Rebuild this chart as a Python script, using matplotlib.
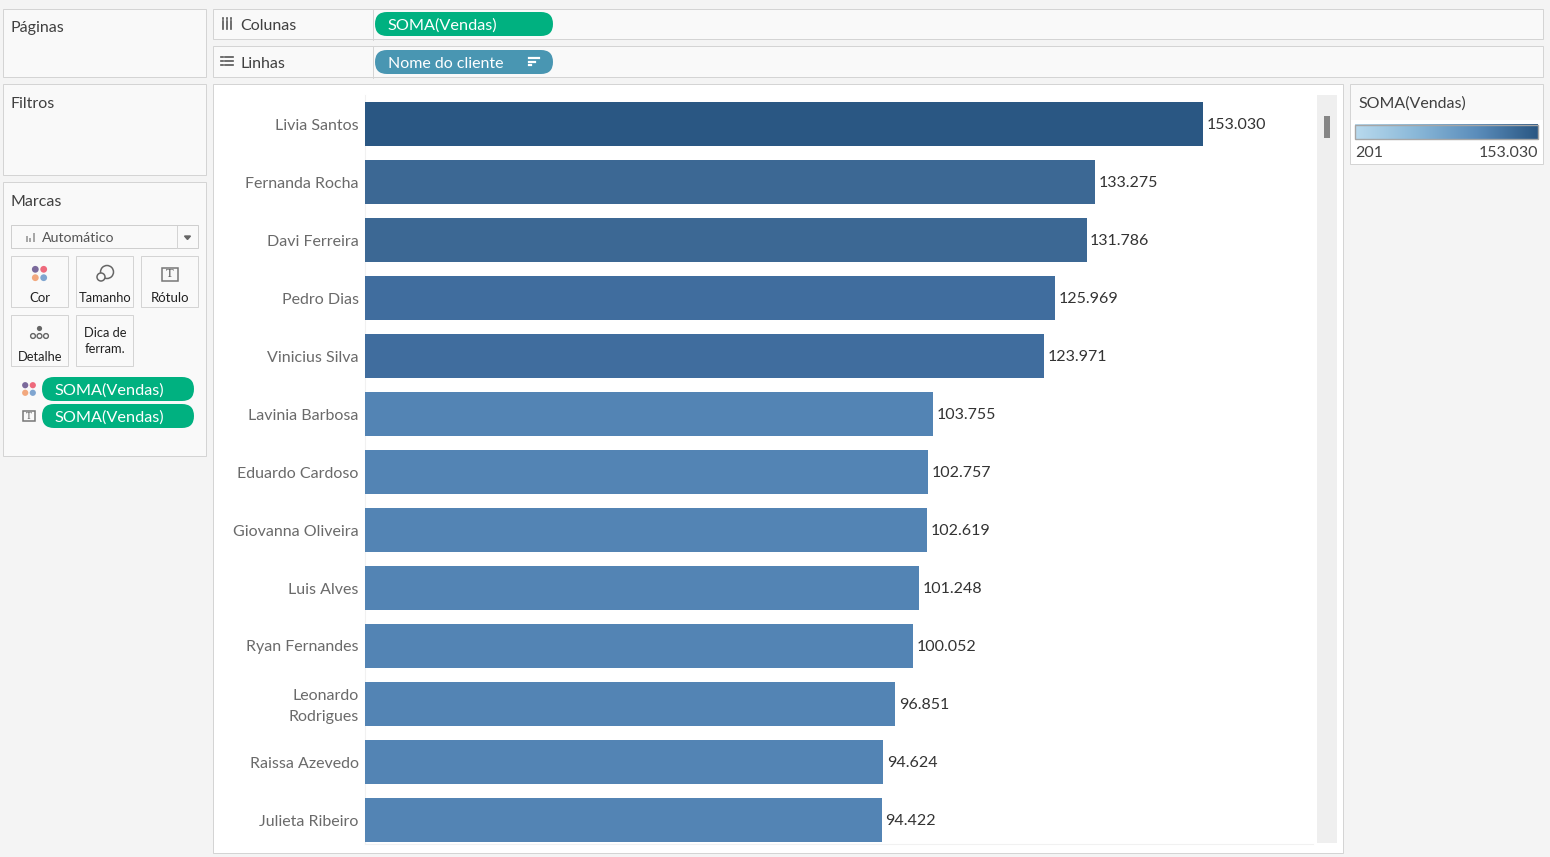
import matplotlib
matplotlib.use("Agg")
import matplotlib.pyplot as plt
from matplotlib.patches import Rectangle, FancyBboxPatch, Circle
from matplotlib.colors import LinearSegmentedColormap, ListedColormap, BoundaryNorm
from matplotlib.transforms import ScaledTranslation
import numpy as np

plt.rcParams['font.family'] = ['Lato', 'DejaVu Sans']

customers = ["Livia Santos", "Fernanda Rocha", "Davi Ferreira", "Pedro Dias", "Vinicius Silva",
             "Lavinia Barbosa", "Eduardo Cardoso", "Giovanna Oliveira", "Luis Alves", "Ryan Fernandes",
             "Leonardo\nRodrigues", "Raissa Azevedo", "Julieta Ribeiro"]
sales = [153030, 133275, 131786, 125969, 123971, 103755, 102757, 102619, 101248, 100052, 96851, 94624, 94422]
value_labels = ["153.030", "133.275", "131.786", "125.969", "123.971", "103.755", "102.757", "102.619",
                "101.248", "100.052", "96.851", "94.624", "94.422"]
color_bins = [201, 110000, 128000, 140000, 153031]
color_steps = ["#5384b4", "#406d9e", "#3c6894", "#2a5783"]
legend_colors = ["#b9daee", "#8ab8d8", "#5b8dbb", "#2a5783"]

W, H = 1550, 857
fig = plt.figure(figsize=(W / 100, H / 100), dpi=100, facecolor="#f4f4f4")
ui = fig.add_axes([0, 0, 1, 1])
ui.set_xlim(0, W); ui.set_ylim(H, 0); ui.axis("off")

EDGE = "#d4d4d4"; PANEL = "#f9f9f9"; TXT = "#404040"; GREEN = "#00b180"; TEAL = "#4996b2"

def box(x0, y0, x1, y1, fc=PANEL, ec=EDGE, lw=1.0, z=1):
    ui.add_patch(Rectangle((x0 + .5, y0 + .5), x1 - x0 - 1, y1 - y0 - 1, fc=fc, ec=ec, lw=lw * 0.72, zorder=z, snap=False))

def pill(x0, y0, x1, y1, fc):
    r = (y1 - y0) / 2
    ui.add_patch(FancyBboxPatch((x0 + r, y0 + r), x1 - x0 - 2 * r, 0, boxstyle=f"round,pad={r},rounding_size={r}",
                                fc=fc, ec="none", zorder=3, mutation_aspect=1))

def label(x, y, s, size=11.5, c=TXT, ha="left", **kw):
    ui.text(x, y + 0.8, s, fontsize=size, color=c, ha=ha, va="center", zorder=5, **kw)

def dots(cx, cy, step=4.2, r=3.4):
    for dx, dy, c in [(-1, -1, "#7b6a9c"), (1, -1, "#ee6a7c"), (-1, 1, "#f2a87e"), (1, 1, "#7fa5d0")]:
        ui.add_patch(Circle((cx + dx * step, cy + dy * step), r, fc=c, ec="none", zorder=5))

def tbox(cx, cy, w, h, size):
    ui.add_patch(Rectangle((cx - w / 2, cy - h / 2), w, h, fc="none", ec="#777777", lw=1.1, zorder=5))
    ui.text(cx, cy, "T", fontsize=size, family="Liberation Serif", color="#555555", ha="center", va="center", zorder=6)

# left cards
box(3, 9, 207, 78); label(11, 27, "Páginas")
box(3, 84, 207, 176); label(11, 103, "Filtros")
box(3, 182, 207, 457); label(11, 201, "Marcas")

# shelves
box(213, 9, 1544, 40); box(213, 46, 1544, 78)
ui.plot([372.5, 372.5], [9, 40], color=EDGE, lw=0.72, zorder=2)
ui.plot([372.5, 372.5], [46, 78], color=EDGE, lw=0.72, zorder=2)
for x in (223, 227, 231):
    ui.plot([x, x], [21, 29], color="#555555", lw=1.2, zorder=3)
    ui.plot([x, x], [17.5, 19], color="#555555", lw=1.2, zorder=3)
label(240.5, 25, "Colunas")
for y in (57, 61, 65):
    ui.plot([221, 223], [y, y], color="#555555", lw=1.2, zorder=3)
    ui.plot([225, 233], [y, y], color="#555555", lw=1.2, zorder=3)
label(241, 63, "Linhas")
pill(375, 12, 553, 36, GREEN); label(388, 25, "SOMA(Vendas)", size=11.7, c="white")
pill(375, 50, 553, 74, TEAL); label(388, 63, "Nome do cliente", c="white")
for y, x1 in ((58, 539), (61.5, 535), (65, 531)):
    ui.plot([529, x1], [y, y], color="white", lw=1.6, zorder=5)

# marks card
box(11, 225, 199, 249, fc=PANEL, ec="#cfcfcf")
ui.plot([176.5, 176.5], [226, 248], color=EDGE, lw=0.72, zorder=3)
for x, h in ((26.5, 6), (30, 4), (33.5, 9)):
    ui.add_patch(Rectangle((x - 1, 242 - h), 2.2, h, fc="#a8a8a8", ec="none", zorder=4))
label(42, 237, "Automático", size=10.2, c="#555555")
ui.fill([184.5, 190.5, 187.5], [236, 236, 239.5], color="#666666", zorder=4)
for bx0, bx1, by0, by1 in ((11, 69, 256, 308), (76, 134, 256, 308), (141, 199, 256, 308),
                           (11, 69, 315, 367), (76, 134, 315, 367)):
    box(bx0, by0, bx1, by1, fc=PANEL, ec=EDGE)
dots(39.5, 273.5)
ui.add_patch(Circle((107, 272), 6.5, fc="none", ec="#666666", lw=1.1, zorder=5))
ui.add_patch(Circle((101, 277), 4, fc=PANEL, ec="#666666", lw=1.1, zorder=6))
tbox(170, 274, 16, 13, 9)
label(40, 297.5, "Cor", size=9.5, c="#222222", ha="center")
label(105, 297.5, "Tamanho", size=9.3, c="#222222", ha="center")
label(170, 297.5, "Rótulo", size=9.5, c="#222222", ha="center")
ui.add_patch(Circle((39.5, 328.5), 2.6, fc="#666666", ec="none", zorder=5))
for x in (33, 39.5, 46):
    ui.add_patch(Circle((x, 336), 2.4, fc="none", ec="#666666", lw=1, zorder=5))
label(40, 356.5, "Detalhe", size=9.3, c="#222222", ha="center")
label(105, 332.5, "Dica de", size=9.3, c="#222222", ha="center")
label(105, 348.5, "ferram.", size=9.3, c="#222222", ha="center")
dots(29, 389, step=3.8, r=3.1)
tbox(29, 416, 12, 10, 7)
pill(42, 377, 194, 401, GREEN); label(54.5, 389.5, "SOMA(Vendas)", size=11.7, c="white")
pill(42, 404, 194, 428, GREEN); label(54.5, 416.5, "SOMA(Vendas)", size=11.7, c="white")

# chart panel and scrollbar
box(213, 84, 1344, 854, fc="white", ec=EDGE)
ui.add_patch(Rectangle((1317, 95), 20, 748, fc="#efefef", ec="none", zorder=2))
ui.add_patch(Rectangle((1324, 116), 6, 22, fc="#868686", ec="none", zorder=3))
ui.plot([364.5, 364.5], [95, 843], color="#f1f1f1", lw=0.8, zorder=2)
ui.plot([364.5, 1312.5], [843.5, 843.5], color="#f1f1f1", lw=0.8, zorder=2)

# legend card
box(1350, 84, 1544, 165, fc="white", ec=EDGE)
ui.add_patch(Rectangle((1351, 85), 192, 35, fc=PANEL, ec="none", zorder=2))
label(1358, 102.5, "SOMA(Vendas)")
grad = LinearSegmentedColormap.from_list("leg", legend_colors)
ui.imshow(np.linspace(0, 1, 256)[None, :], cmap=grad, aspect="auto", extent=(1355, 1538, 139, 124.5), zorder=4)
ui.add_patch(Rectangle((1355, 124.5), 183, 14.5, fc="none", ec="#a6a6a6", lw=1.0, zorder=5))
ui.set_xlim(0, W); ui.set_ylim(H, 0)
label(1355, 152.5, "201", c="#444444")
label(1538, 152.5, "153.030", c="#444444", ha="right")

# bars
x0, x1, y0, y1 = 365, 1317, 95, 843
ax = fig.add_axes([x0 / W, 1 - y1 / H, (x1 - x0) / W, (y1 - y0) / H], zorder=4)
ax.patch.set_alpha(0)
ax.set_xlim(0, sales[0] * (x1 - x0) / 838)
ax.set_ylim((y1 - 124) / 58, (y0 - 124) / 58)
norm = BoundaryNorm(color_bins, len(color_steps))
cmap = ListedColormap(color_steps)
pos = np.arange(len(customers))
ax.barh(pos, sales, height=44 / 58, color=cmap(norm(sales)), linewidth=0)
ax.set_yticks(pos, customers, fontsize=11.5, color="#6a6a6a", linespacing=1.6)
ax.tick_params(axis="y", length=0, pad=4.5)
ax.set_xticks([])
for s in ax.spines.values():
    s.set_visible(False)
for lab in ax.get_yticklabels():
    if "\n" in lab.get_text():
        lab.set_transform(lab.get_transform() + ScaledTranslation(0, 2 / 100, fig.dpi_scale_trans))
for p, v, t in zip(pos, sales, value_labels):
    ax.annotate(t, (v, p), xytext=(3.5, -1), textcoords="offset pixels", va="center", ha="left",
                fontsize=11.5, color="#333333", annotation_clip=False)

fig.savefig("out.png", dpi=100, facecolor=fig.get_facecolor())
